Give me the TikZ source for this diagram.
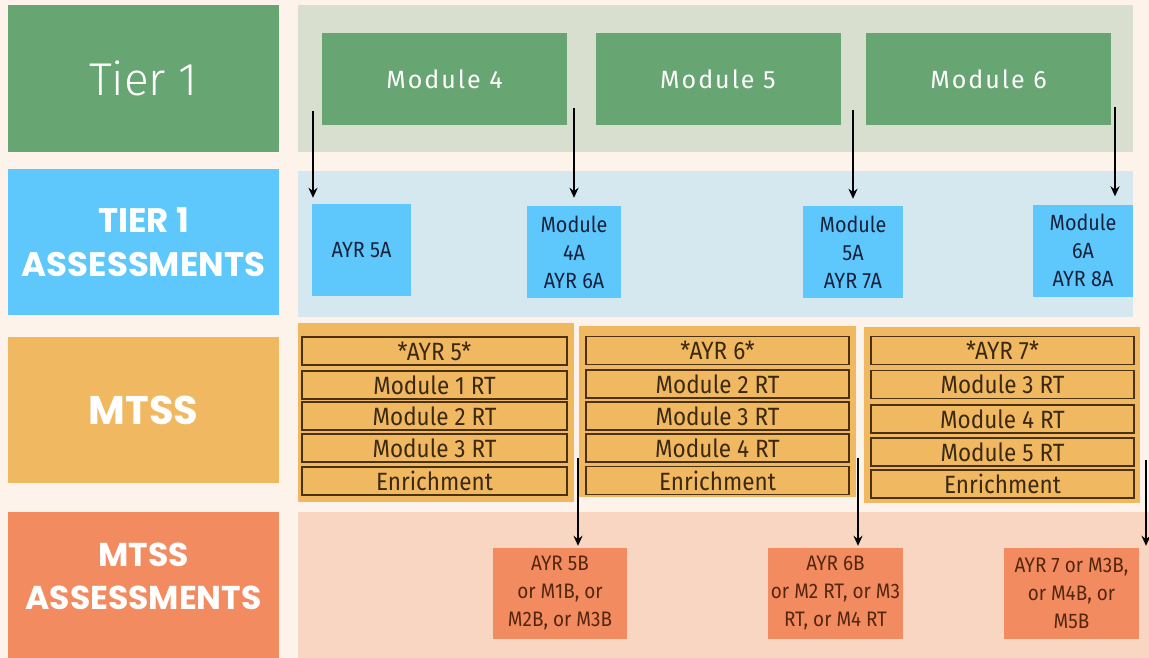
\documentclass[tikz,border=0pt]{standalone}
\usepackage{fontspec}
\setmainfont{Fira Sans}
\newfontfamily\lightfont{Fira Sans Light}
\newfontfamily\headfont{Poppins}
\newfontfamily\trackfont{Fira Sans}[LetterSpace=8]
\newfontfamily\narrowfont{Fira Sans}[FakeStretch=0.9]
\usetikzlibrary{arrows.meta}

\definecolor{paper}{RGB}{253,243,235}
\definecolor{tiergreen}{RGB}{103,165,114}
\definecolor{greenpanel}{RGB}{217,223,207}
\definecolor{tierblue}{RGB}{94,200,252}
\definecolor{bluepanel}{RGB}{213,231,239}
\definecolor{mtssorange}{RGB}{240,184,96}
\definecolor{peachpanel}{RGB}{249,214,194}
\definecolor{coral}{RGB}{242,139,96}
\definecolor{navytext}{RGB}{22,33,60}
\definecolor{rowline}{RGB}{74,50,16}
\definecolor{rowtext}{RGB}{58,40,16}
\definecolor{coraltext}{RGB}{84,38,14}

\begin{document}
\begin{tikzpicture}[x=1pt,y=-1pt,
    box/.style={inner sep=0pt, align=center},
    rowbox/.style={draw=rowline, line width=1.4pt, fill=mtssorange, minimum width=263, minimum height=28,
        inner sep=0pt, text=rowtext, font=\narrowfont\fontsize{25}{26}\selectfont},
    modbox/.style={box, fill=tiergreen, minimum width=245, minimum height=92, text=white,
        font=\trackfont\fontsize{25}{28}\selectfont},
    abox/.style={box, fill=tierblue, minimum height=92, text=navytext, font=\narrowfont\fontsize{22}{28}\selectfont},
    bbox/.style={box, fill=coral, minimum width=135, minimum height=91, text=coraltext,
        font=\narrowfont\fontsize{21}{28}\selectfont},
    link/.style={-{Stealth[length=10pt,width=9pt]}, line width=2.4pt, black}]

    \useasboundingbox (0,0) rectangle (1149,658);
    \fill[paper] (0,0) rectangle (1149,658);

    % left column
    \node[box, fill=tiergreen, minimum width=271, minimum height=147, text=white,
        font=\lightfont\fontsize{46}{48}\selectfont] (tier) at (143.5,78.5) {Tier 1};
    \node[box, fill=tierblue, minimum width=271, minimum height=146, text=white,
        font=\headfont\bfseries\fontsize{34}{44}\selectfont] (tiera) at (143.5,242) {TIER 1\\ASSESSMENTS};
    \node[box, fill=mtssorange, minimum width=271, minimum height=146, text=white,
        font=\headfont\bfseries\fontsize{40}{44}\selectfont] (mtss) at (143.5,410) {MTSS};
    \node[box, fill=coral, minimum width=271, minimum height=146] (mtssa) at (143.5,585) {};
    \node[box, text=white, font=\headfont\bfseries\fontsize{33}{43}\selectfont]
        (mtssatxt) at ([yshift=9pt]mtssa.center) {MTSS\\ASSESSMENTS};

    % panels
    \node[box, fill=greenpanel, minimum width=835, minimum height=147] (p1) at (715.5,78.5) {};
    \node[box, fill=bluepanel, minimum width=835, minimum height=146] (p2) at (715.5,244) {};
    \node[box, fill=mtssorange, minimum width=276, minimum height=179] (oa) at (436,412.5) {};
    \node[box, fill=mtssorange, minimum width=277, minimum height=171] (ob) at (717.5,411.5) {};
    \node[box, fill=mtssorange, minimum width=276, minimum height=176] (oc) at (1002,415) {};
    \node[box, fill=peachpanel, minimum width=851, minimum height=146] (p4) at (723.5,585) {};

    % tier 1 modules
    \node[modbox] (m4) at (444.5,79) {Module 4};
    \node[modbox] (m5) at (718,79) {Module 5};
    \node[modbox] (m6) at (988.5,79) {Module 6};

    % tier 1 assessments
    \node[abox, minimum width=99] (a5) at (361.5,250) {AYR 5A};
    \node[abox, minimum width=94] (a4) at (574,252) {Module\\4A\\AYR 6A};
    \node[abox, minimum width=100] (a55) at (853,252) {Module\\5A\\AYR 7A};
    \node[abox, minimum width=100] (a6) at (1083,250.5) {Module\\6A\\AYR 8A};

    % mtss rows
    \foreach \txt/\y [count=\i] in {*AYR 5*/351, Module 1 RT/385, Module 2 RT/416, Module 3 RT/448, Enrichment/481}
        \node[rowbox, minimum width=265] (ra\i) at (434.5,\y) {\txt};
    \foreach \txt/\y [count=\i] in {*AYR 6*/350.5, Module 2 RT/384, Module 3 RT/416, Module 4 RT/448, Enrichment/480.5}
        \node[rowbox] (rb\i) at (717.5,\y) {\txt};
    \foreach \txt/\y [count=\i] in {*AYR 7*/350.5, Module 3 RT/384.5, Module 4 RT/419, Module 5 RT/452, Enrichment/484}
        \node[rowbox] (rc\i) at (1002.5,\y) {\txt};

    % mtss assessments
    \node[bbox, minimum width=134] (b5) at (560,593.5) {AYR 5B\\or M1B, or\\M2B, or M3B};
    \node[bbox] (b6) at (835.5,593.5) {AYR 6B\\or M2 RT, or M3\\RT, or M4 RT};
    \node[bbox] (b7) at (1071.5,593.5) {AYR 7 or M3B,\\or M4B, or\\M5B};

    % arrows
    \coordinate (s1) at (313,111);
    \coordinate (s2) at (574,108);
    \coordinate (s3) at (853,110);
    \coordinate (s4) at (1115,107);
    \draw[link, shorten >=6pt] (s1) -- (s1 |- a5.north);
    \draw[link, shorten >=8pt] (s2) -- (s2 |- a4.north);
    \draw[link, shorten >=7pt] (s3) -- (s3 |- a55.north);
    \draw[link, shorten >=8pt] (s4) -- (s4 |- a6.north);

    \coordinate (t1) at (578,458);
    \coordinate (t2) at (858,458);
    \coordinate (t3) at (1146,460);
    \draw[link, shorten >=2pt] (t1) -- (t1 |- b5.north);
    \draw[link, shorten >=2pt] (t2) -- (t2 |- b6.north);
    \draw[link, shorten >=2pt] (t3) -- (t3 |- b7.north);
\end{tikzpicture}
\end{document}
